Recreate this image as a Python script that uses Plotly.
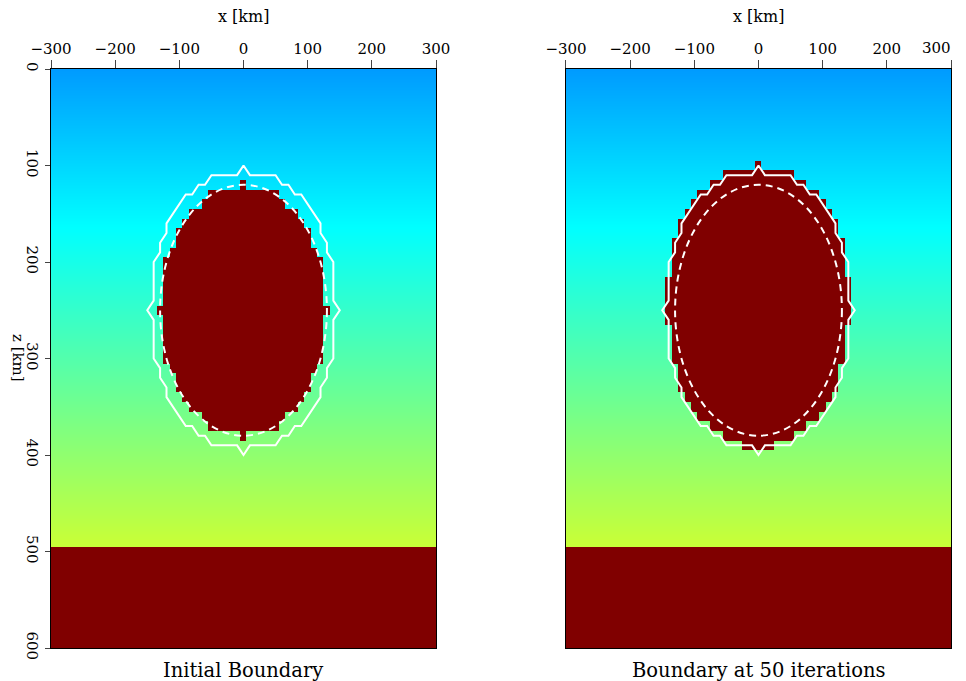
import plotly.graph_objects as go
from plotly.subplots import make_subplots

# ---------------- data ----------------
# colour scale limits (velocity, km/s) and salt velocity
v_min, v_max = 1.5, 4.5
salt_velocity = 4.5
# background velocity at depth nodes (km)
bg_depth = [0, 100, 200, 300, 400, 490]
bg_velocity = [2.33, 2.51, 2.69, 2.87, 3.05, 3.21]
# salt halfspace top (cell centres, km)
salt_base_top = 500
# grid of cells (centres, km)
grid_x = list(range(-300, 301, 10))
grid_z = list(range(0, 601, 10))

# left panel: salt body rows (z centre) and half width in x (km)
left_rows_z = [120, 130, 140, 150, 160, 170, 180, 190, 200, 210, 220, 230, 240, 250,
               260, 270, 280, 290, 300, 310, 320, 330, 340, 350, 360, 370, 380]
left_half_w = [0, 50, 60, 80, 90, 100, 100, 110, 120, 120, 120, 120, 120, 130,
               120, 120, 120, 120, 120, 110, 100, 100, 90, 80, 60, 50, 0]
# right panel: salt body after 50 iterations
right_rows_z = [100, 110, 120, 130, 140, 150, 160, 170, 180, 190, 200, 210, 220, 230, 240,
                250, 260, 270, 280, 290, 300, 310, 320, 330, 340, 350, 360, 370, 380, 390]
right_half_w = [0, 50, 70, 90, 100, 110, 120, 120, 130, 130, 130, 130, 140, 140, 140,
                140, 140, 130, 130, 130, 130, 120, 120, 120, 110, 100, 90, 70, 50, 20]

# true boundary (dashed circle)
true_center_x, true_center_z, true_radius = 0, 250, 130
# initial boundary contour: one quadrant, (x, offset from centre in z)
contour_qx = [0, 10, 50, 60, 70, 80, 90, 120, 120, 130, 130, 140, 140, 150]
contour_qdz = [150, 140, 140, 130, 130, 120, 120, 90, 80, 70, 60, 50, 10, 0]

x_ticks = [-300, -200, -100, 0, 100, 200, 300]
x_ticktext_left = ["\u2212300", "\u2212200", "\u2212100", "0", "100", "200", "300"]
x_ticktext_right = ["\u2212300", "\u2212200", "\u2212100", "0", "100", "200", ""]
z_ticks = [0, 100, 200, 300, 400, 500, 600]
panel_titles = ["Initial Boundary", "Boundary at 50 iterations"]

# ---------------- build tables ----------------
jet = [[0.0, "#00008f"], [0.125, "#0000ff"], [0.375, "#00ffff"],
       [0.625, "#ffff00"], [0.875, "#ff0000"], [1.0, "#800000"]]


def salt_table(rows_z, half_w):
    halfmap = dict(zip(rows_z, half_w))
    table = []
    for z in grid_z:
        row = []
        for x in grid_x:
            inside = z >= salt_base_top or (z in halfmap and abs(x) <= halfmap[z])
            row.append(salt_velocity if inside else None)
        table.append(row)
    return table


cx = contour_qx + contour_qx[::-1][1:] + [-v for v in contour_qx][1:] + [-v for v in contour_qx[::-1]][1:]
cz_off = ([-d for d in contour_qdz] + contour_qdz[::-1][1:] + contour_qdz[1:]
          + [-d for d in contour_qdz[::-1]][1:])
contour_x = cx
contour_z = [true_center_z + d for d in cz_off]

fig = make_subplots(rows=1, cols=2, horizontal_spacing=0.1444)

for col, (rz, hw) in enumerate([(left_rows_z, left_half_w), (right_rows_z, right_half_w)], start=1):
    fig.add_trace(go.Heatmap(
        x=[-300, 300], y=bg_depth, z=[[v, v] for v in bg_velocity],
        zmin=v_min, zmax=v_max, colorscale=jet, zsmooth="best",
        showscale=False, hoverinfo="skip"), row=1, col=col)
    fig.add_trace(go.Heatmap(
        x=grid_x, y=grid_z, z=salt_table(rz, hw),
        zmin=v_min, zmax=v_max, colorscale=jet, zsmooth=False,
        showscale=False, hoverinfo="skip"), row=1, col=col)
    fig.add_trace(go.Scatter(
        x=contour_x, y=contour_z, mode="lines",
        line=dict(color="white", width=2), hoverinfo="skip", showlegend=False),
        row=1, col=col)
    xref = "x" if col == 1 else "x2"
    yref = "y" if col == 1 else "y2"
    fig.add_shape(type="circle", xref=xref, yref=yref,
                  x0=true_center_x - true_radius, x1=true_center_x + true_radius,
                  y0=true_center_z - true_radius, y1=true_center_z + true_radius,
                  line=dict(color="white", width=2, dash="7px,5px"))

font_family = "DejaVu Serif"
tick_font = dict(family=font_family, size=15, color="black")
axis_common = dict(showgrid=False, zeroline=False, showline=True, linecolor="black",
                   linewidth=1, mirror=True, ticks="outside", tickcolor="#444",
                   automargin=False, tickfont=tick_font)
fig.update_xaxes(range=[-300, 300], side="top", tickvals=x_ticks, ticktext=x_ticktext_left,
                 ticklen=8, row=1, col=1, **axis_common)
fig.update_xaxes(range=[-300, 300], side="top", tickvals=x_ticks, ticktext=x_ticktext_right,
                 ticklen=8, row=1, col=2, **axis_common)
fig.update_yaxes(range=[600, 0], tickvals=z_ticks, ticklen=5, tickangle=90,
                 row=1, col=1, **axis_common)
fig.update_yaxes(range=[600, 0], tickvals=z_ticks, showticklabels=False, ticks="",
                 row=1, col=2, showgrid=False, zeroline=False, showline=True,
                 automargin=False, linecolor="black", linewidth=1, mirror=True)

ann = []
for xc in (0.2139, 0.7861):
    ann.append(dict(text="x [km]", x=xc, y=1.0915, xref="paper", yref="paper",
                    showarrow=False, font=dict(family=font_family, size=16, color="black"),
                    xanchor="center", yanchor="middle"))
# last tick label of the right panel, pulled inside the page edge as in the original
ann.append(dict(text=x_ticktext_left[-1], x=0.9844, y=1.0363, xref="paper", yref="paper",
                showarrow=False, font=tick_font, xanchor="center", yanchor="middle"))
for xc, t in zip((0.2133, 0.7856), panel_titles):
    ann.append(dict(text=t, x=xc, y=-0.038, xref="paper", yref="paper",
                    showarrow=False, font=dict(family=font_family, size=19.5, color="black"),
                    xanchor="center", yanchor="middle"))
ann.append(dict(text="z [km]", x=-0.0367, y=0.5009, xref="paper", yref="paper",
                showarrow=False, textangle=90,
                font=dict(family=font_family, size=15, color="black"),
                xanchor="center", yanchor="middle"))

# page body adds an 8 px offset, so the figure is 8 px smaller with margins shifted
fig.update_layout(width=958, height=673, margin=dict(l=43, r=15, t=61, b=33),
                  plot_bgcolor="white", paper_bgcolor="white", showlegend=False,
                  annotations=ann)
fig.update_xaxes(domain=[0, 0.4278], row=1, col=1)
fig.update_xaxes(domain=[0.5722, 1.0], row=1, col=2)

fig.write_html("out.html")
